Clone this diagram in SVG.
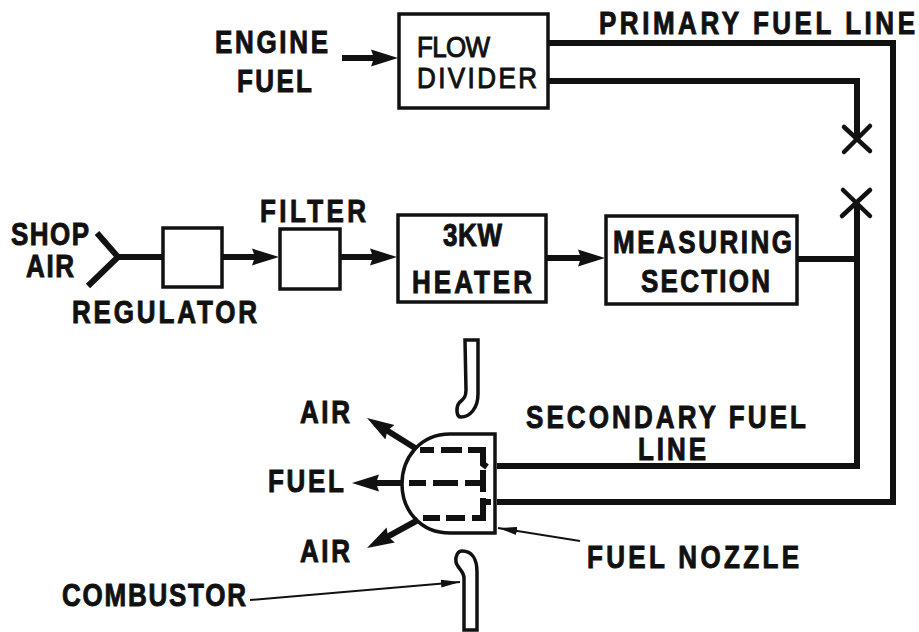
<svg xmlns="http://www.w3.org/2000/svg" width="919" height="632" viewBox="0 0 919 632">
<style>
text{font-family:"Liberation Sans",Arial,sans-serif;font-weight:700;fill:#111;stroke:#111;stroke-width:.8;font-size:26px}
text.r{font-weight:400;stroke-width:.9}
.b{fill:#fff;stroke:#111;stroke-width:3.5}
.l{fill:none;stroke:#111;stroke-width:6}
.t{fill:none;stroke:#111;stroke-width:2}
.o{fill:none;stroke:#111;stroke-width:3.5}
.d{fill:none;stroke:#111;stroke-width:6}
</style>
<defs>
<marker id="a" markerUnits="userSpaceOnUse" markerWidth="30" markerHeight="20" refX="17" refY="10" orient="auto"><path d="M0 1.500L27 10L0 18.500L3 10Z" fill="#111"/></marker>
<marker id="s" markerUnits="userSpaceOnUse" markerWidth="20" markerHeight="10" refX="19" refY="5" orient="auto"><path d="M0 1L19 5L0 9Z" fill="#111"/></marker>
</defs>
<g id="connectors">
<path class="l" d="M342 58H388" marker-end="url(#a)"/>
<path class="l" d="M549 43H893V502H497"/>
<path class="l" d="M549 81H857V137"/>
<path class="l" d="M857 203V466H497"/>
<path class="l" d="M797 259H857"/>
<path class="l" d="M97 233L118 257L88 286M118 257H163"/>
<path class="l" d="M222 257H269" marker-end="url(#a)"/>
<path class="l" d="M340 257H387" marker-end="url(#a)"/>
<path class="l" d="M546 258H595" marker-end="url(#a)"/>
<path d="M844 127L870 151M870 126L844 152M843 190L870 216M870 190L842 216" fill="none" stroke="#111" stroke-width="4.5" stroke-linecap="round"/>
<path class="l" d="M415 448L375.500 423.300" marker-end="url(#a)"/>
<path class="l" d="M402 483H362" marker-end="url(#a)"/>
<path class="l" d="M418 520L375.800 543.200" marker-end="url(#a)"/>
<path class="t" d="M580 541L498 528" marker-end="url(#s)"/>
<path class="t" d="M250 600L460 582" marker-end="url(#s)"/>
</g>
<g id="flow-divider"><rect class="b" x="399" y="14" width="149" height="94"/><text class="r" transform="translate(417 57) scale(1 1.1)" textLength="73">FLOW</text><text class="r" transform="translate(417 88) scale(1 1.1)" textLength="120">DIVIDER</text></g>
<g id="regulator"><rect class="b" x="163" y="228" width="59" height="59"/></g>
<g id="filter"><rect class="b" x="280" y="229" width="60" height="60"/></g>
<g id="heater"><rect class="b" x="398" y="215" width="148" height="87"/><text transform="translate(443 246) scale(1 1.2)" textLength="59">3KW</text><text transform="translate(412 293) scale(1 1.2)" textLength="120">HEATER</text></g>
<g id="measuring-section"><rect class="b" x="606" y="216" width="191" height="88"/><text transform="translate(613 253) scale(1 1.2)" textLength="179">MEASURING</text><text transform="translate(641 292) scale(1 1.2)" textLength="129">SECTION</text></g>
<g id="fuel-nozzle">
<path class="o" d="M495 434V533H450C420 533 402 510 402 484C402 458 420 434 450 434Z"/>
<path class="d" d="M420 450H434M441 450H462M468 450H483V464L487 467M409 483H426M433 483H458M465 483H483M483 470V492M483 498V518H472M465 518H446M440 518H423M483 502H491"/>
</g>
<g id="combustor">
<path class="o" d="M465 340H478V394C478 408 470 417 461 417C456 417 456 407 459 403C463 399 466 398 466 390Z"/>
<path class="o" d="M462 551C472 551 477 559 477 572V630H464V578C464 571 457 568 456 562C455 556 458 551 462 551Z"/>
</g>
<g id="labels">
<text transform="translate(599 34) scale(1 1.2)" textLength="316">PRIMARY FUEL LINE</text>
<text transform="translate(215 53) scale(1 1.2)" textLength="113">ENGINE</text>
<text transform="translate(237 92) scale(1 1.2)" textLength="75">FUEL</text>
<text transform="translate(11 245) scale(1 1.2)" textLength="78">SHOP</text>
<text transform="translate(26 277) scale(1 1.2)" textLength="48">AIR</text>
<text transform="translate(260 222) scale(1 1.2)" textLength="106">FILTER</text>
<text transform="translate(72 323) scale(1 1.2)" textLength="185">REGULATOR</text>
<text transform="translate(526 428) scale(1 1.2)" textLength="280">SECONDARY FUEL</text>
<text transform="translate(638 460) scale(1 1.2)" textLength="68">LINE</text>
<text transform="translate(300 423) scale(1 1.2)" textLength="50">AIR</text>
<text transform="translate(268 492) scale(1 1.2)" textLength="76">FUEL</text>
<text transform="translate(300 562) scale(1 1.2)" textLength="50">AIR</text>
<text transform="translate(587 568) scale(1 1.2)" textLength="212">FUEL NOZZLE</text>
<text transform="translate(62 606) scale(1 1.2)" textLength="184">COMBUSTOR</text>
</g>
</svg>
